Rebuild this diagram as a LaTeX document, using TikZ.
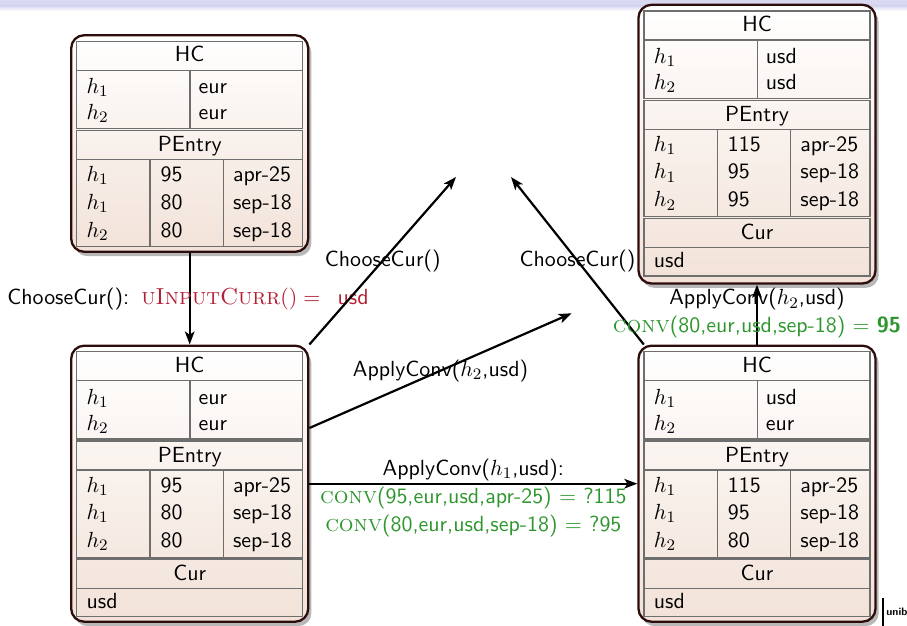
\documentclass[tikz,border=0pt]{standalone}
\usetikzlibrary{arrows.meta,shadows,fit,calc}
\definecolor{boxbot}{RGB}{242,226,216}
\definecolor{boxborder}{RGB}{45,12,12}
\definecolor{tline}{RGB}{110,110,110}
\definecolor{alertred}{RGB}{180,30,50}
\definecolor{convgreen}{RGB}{45,150,45}
\definecolor{bandcol}{RGB}{216,216,240}

\newcommand\scfont{\rmfamily\fontsize{11.6}{13.6}\selectfont\scshape}
\newcommand\dbmain[6]{%
  \draw[tbl] (0,0) rectangle (226,29);
  \node[hcell] (#1hc) at (113,20.5) {HC};
  \draw[tbl] (0,29) rectangle (226,87.3);
  \draw[tbl] (113.3,29) -- (113.3,87.3);
  \node[cell] (#1hra) at (9.5,52.5) {$h_1$};
  \node[cell] (#1hrb) at (9.5,78.5) {$h_2$};
  \node[cell] (#1hva) at (121.5,52.5) {#2};
  \node[cell] (#1hvb) at (121.5,78.5) {#3};
  \draw[tbl] (0,89.3) rectangle (226,118.3);
  \node[hcell] (#1pe) at (113,110.5) {PEntry};
  \draw[tbl] (0,118.3) rectangle (226,205.6);
  \draw[tbl] (73.3,118.3) -- (73.3,205.6);
  \draw[tbl] (146.6,118.3) -- (146.6,205.6);
  \node[cell] (#1pha) at (9.5,140.5) {$h_1$};
  \node[cell] (#1phb) at (9.5,168) {$h_1$};
  \node[cell] (#1phc) at (9.5,196) {$h_2$};
  \node[cell] (#1pna) at (83.5,140.5) {#4};
  \node[cell] (#1pnb) at (83.5,168) {#5};
  \node[cell] (#1pnc) at (83.5,196) {#6};
  \node[cell] (#1pda) at (156,140.5) {apr-25};
  \node[cell] (#1pdb) at (156,168) {sep-18};
  \node[cell] (#1pdc) at (156,196) {sep-18};
}
\newcommand\dbcur[2]{%
  \draw[tbl] (0,207.3) rectangle (226,236.6);
  \node[hcell] (#1cur) at (113,228.5) {Cur};
  \draw[tbl] (0,236.6) rectangle (226,265);
  \node[cell] (#1curv) at (9.5,257) {#2};
}

\begin{document}
\begin{tikzpicture}[x=0.5pt,y=-0.5pt,
  font=\sffamily\fontsize{10.95}{13.6}\selectfont,
  outerbox/.style={draw=boxborder, line width=1.15pt, rounded corners=6.5pt,
    top color=white, bottom color=boxbot, inner sep=0pt,
    drop shadow={shadow xshift=1.6pt, shadow yshift=-2.2pt, fill=black, opacity=0.28}},
  tbl/.style={draw=tline, line width=0.6pt},
  cell/.style={anchor=base west, inner sep=0pt},
  hcell/.style={anchor=base, inner sep=0pt},
  conn/.style={draw=black, line width=1.1pt, -{Stealth[length=6.5pt, width=4.8pt, inset=1.6pt]}},
  lbl/.style={inner sep=0pt},
]
\useasboundingbox (0,0) rectangle (907,626);
\clip (0,0) rectangle (907,626);

% headline band
\fill[bandcol] (0,0) rectangle (907,6);
\shade[top color=bandcol, bottom color=white] (0,6) rectangle (907,11);

% outer boxes
\node[outerbox, fit={(71.2,35.2) (308.2,251.8)}] (A) {};
\node[outerbox, fit={(71.2,345.7) (308.2,621.7)}] (B) {};
\node[outerbox, fit={(638.5,4.8) (875.5,283.5)}] (C) {};
\node[outerbox, fit={(638.5,345.7) (875.5,621.7)}] (D) {};

\begin{scope}[shift={(76.7,41.2)}]
  \dbmain{a}{eur}{eur}{95}{80}{80}
\end{scope}
\begin{scope}[shift={(76.7,351.7)}]
  \dbmain{b}{eur}{eur}{95}{80}{80}
  \dbcur{b}{usd}
\end{scope}
\begin{scope}[shift={(644,11)}]
  \dbmain{c}{usd}{usd}{115}{95}{95}
  \dbcur{c}{usd}
\end{scope}
\begin{scope}[shift={(644,351.7)}]
  \dbmain{d}{usd}{eur}{115}{95}{80}
  \dbcur{d}{usd}
\end{scope}

% free ends
\coordinate (t2) at (456,177);
\coordinate (t3) at (571.7,313.3);
\coordinate (t5) at (511,177);

% arrow 1
\draw[conn] (A.south) -- (B.north);
\node[cell] (l1) at (7,305) {ChooseCur():\hspace{6pt}{\color{alertred}{\scfont uInputCurr}$() =$\hspace{8.5pt}usd}};

% arrow 2
\draw[conn] (B.north east) -- node[lbl] (l2) {ChooseCur()} (t2);

% arrow 3
\draw[conn] ($(B.north east)!0.3!(B.south east)$) -- node[lbl] (l3) {ApplyConv($h_2$,usd)} (t3);

% arrow 4
\draw[conn] (B.east) --
  node[lbl, anchor=base, yshift=4pt] (l4a) {ApplyConv($h_1$,usd):}
  node[lbl, anchor=base, yshift=-9.75pt, text=convgreen] (l4b)
     {{\scfont conv}(95,eur,usd,apr-25) $=$ ?115}
  node[lbl, anchor=base, yshift=-23.95pt, text=convgreen] (l4c)
     {{\scfont conv}(80,eur,usd,sep-18) $=$ ?95}
  (D.west);

% arrow 5
\draw[conn] ($(D.north west)+(6.5,0)$) -- node[lbl] (l5) {ChooseCur()} (t5);

% arrow 6
\draw[conn] (D.north) -- (C.south);
\node[lbl, anchor=base] (l6a) at ($(D.north)+(0,-39.7)$) {ApplyConv($h_2$,usd)};
\node[lbl, anchor=base, text=convgreen] (l6b) at ($(D.north)+(0,-12.4)$)
  {{\scfont conv}(80,eur,usd,sep-18) $=$ \textbf{95}};

% logo fragment
\draw[line width=0.6pt] (883,598) -- (883,626);
\node[cell, font=\sffamily\bfseries\fontsize{5.4}{6}\selectfont] (logo) at (886,616) {unib};
\end{tikzpicture}
\end{document}
